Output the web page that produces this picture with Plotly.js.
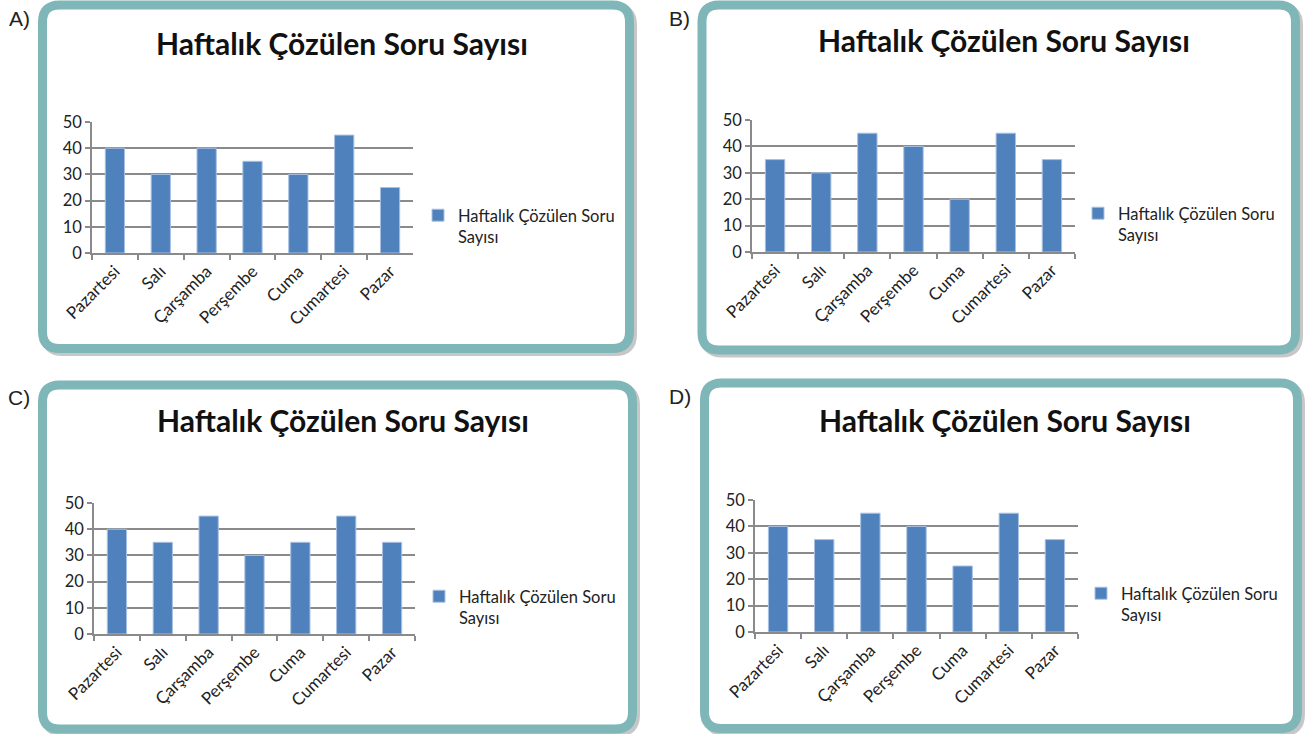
<!DOCTYPE html>
<html>
<head>
<meta charset="utf-8">
<script src="https://cdn.plot.ly/plotly-3.0.1.min.js"></script>
<style>
  html, body { margin: 0; padding: 0; background: #ffffff; }
  #chart { width: 1305px; height: 734px; }
</style>
</head>
<body>
<div id="chart"></div>
<script>
// ---------- data ----------
const days = ["Pazartesi", "Salı", "Çarşamba", "Perşembe", "Cuma", "Cumartesi", "Pazar"];
const seriesName = "Haftalık Çözülen Soru Sayısı";
const chartTitle = "Haftalık Çözülen Soru Sayısı";
const optionLabels = ["A)", "B)", "C)", "D)"];
const valuesA = [40, 30, 40, 35, 30, 45, 25];
const valuesB = [35, 30, 45, 40, 20, 45, 35];
const valuesC = [40, 35, 45, 30, 35, 45, 35];
const valuesD = [40, 35, 45, 40, 25, 45, 35];
const yTicks = [0, 10, 20, 30, 40, 50];

// ---------- layout helpers (pixel -> paper) ----------
const W = 1305, H = 734;
const px = x => x / W;
const py = y => 1 - y / H;

function roundRect(x0, y0, x1, y1, r) {
  const P = (x, y) => px(x).toFixed(5) + "," + py(y).toFixed(5);
  return "M" + P(x0 + r, y0) + " L" + P(x1 - r, y0) + " Q" + P(x1, y0) + " " + P(x1, y0 + r) +
         " L" + P(x1, y1 - r) + " Q" + P(x1, y1) + " " + P(x1 - r, y1) +
         " L" + P(x0 + r, y1) + " Q" + P(x0, y1) + " " + P(x0, y1 - r) +
         " L" + P(x0, y0 + r) + " Q" + P(x0, y0) + " " + P(x0 + r, y0) + " Z";
}

const panels = [
  { vals: valuesA, box: [42.5, 5, 629.5, 348.5], plot: [92, 413, 122, 253], title: [342, 43], leg: [458, 198], letter: [19, 18] },
  { vals: valuesB, box: [702, 5, 1295.5, 350],   plot: [752, 1075, 120, 252], title: [1004, 40], leg: [1118, 196], letter: [680, 18] },
  { vals: valuesC, box: [42.5, 385, 632.5, 729], plot: [94, 415, 503, 634], title: [343, 420], leg: [459, 579], letter: [19, 397] },
  { vals: valuesD, box: [704.5, 383, 1297.5, 728.5], plot: [755, 1078, 500, 632], title: [1005, 420], leg: [1121, 576], letter: [680, 396] }
];

const FONT = "Lato, 'Open Sans', sans-serif";
const GRID = "#8a8a8a";
const traces = [];
const layout = {
  width: W, height: H,
  margin: { l: 0, r: 0, t: 0, b: 0 },
  paper_bgcolor: "#ffffff",
  plot_bgcolor: "rgba(0,0,0,0)",
  bargap: 0.58,
  showlegend: true,
  font: { family: FONT, color: "#222222" },
  shapes: [],
  annotations: []
};

panels.forEach((p, i) => {
  const n = i === 0 ? "" : String(i + 1);
  const legKey = "legend" + n;
  traces.push({
    type: "bar",
    x: days,
    y: p.vals,
    name: seriesName.replace("Soru ", "Soru<br>"),
    xaxis: "x" + n,
    yaxis: "y" + n,
    legend: legKey,
    marker: { color: "#4f81bd", line: { color: "#a9c1e2", width: 1 } },
    hoverinfo: "x+y"
  });

  layout["xaxis" + n] = {
    domain: [px(p.plot[0]), px(p.plot[1])],
    anchor: "y" + n,
    type: "category",
    tickson: "boundaries",
    ticks: "outside",
    ticklen: 5,
    tickwidth: 1.5,
    tickcolor: GRID,
    showline: true,
    linecolor: GRID,
    linewidth: 1.5,
    showgrid: false,
    tickangle: -45,
    tickfont: { family: FONT, size: 17, color: "#222222" },
    fixedrange: true
  };
  layout["yaxis" + n] = {
    domain: [py(p.plot[3]), py(p.plot[2])],
    anchor: "x" + n,
    range: [0, 50],
    tickvals: yTicks,
    ticks: "outside",
    ticklen: 5,
    tickwidth: 1.5,
    tickcolor: GRID,
    showline: true,
    linecolor: GRID,
    linewidth: 1.5,
    showgrid: true,
    gridcolor: GRID,
    gridwidth: 1.5,
    zeroline: false,
    tickfont: { family: FONT, size: 16.5, color: "#222222" },
    fixedrange: true
  };
  layout[legKey] = {
    x: px(p.leg[0] - 40),
    xanchor: "left",
    y: py(p.leg[1]),
    yanchor: "top",
    valign: "top",
    bgcolor: "rgba(0,0,0,0)",
    borderwidth: 0,
    font: { family: FONT, size: 16.5, color: "#222222" }
  };

  const [x0, y0, x1, y1] = p.box;
  // soft shadow
  layout.shapes.push({
    type: "path", xref: "paper", yref: "paper", layer: "below",
    path: roundRect(x0 + 3, y0 + 3, x1 + 3, y1 + 3, 17),
    line: { color: "rgba(0,0,0,0.22)", width: 9 }
  });
  // teal rounded frame
  layout.shapes.push({
    type: "path", xref: "paper", yref: "paper", layer: "below",
    path: roundRect(x0, y0, x1, y1, 17),
    fillcolor: "#ffffff",
    line: { color: "#7fb7b9", width: 9 }
  });

  layout.annotations.push({
    xref: "paper", yref: "paper",
    x: px(p.title[0]), y: py(p.title[1]),
    xanchor: "center", yanchor: "middle",
    text: "<b>" + chartTitle + "</b>",
    showarrow: false,
    font: { family: FONT, size: 30, color: "#111111" }
  });
  layout.annotations.push({
    xref: "paper", yref: "paper",
    x: px(p.letter[0]), y: py(p.letter[1]),
    xanchor: "center", yanchor: "middle",
    text: optionLabels[i],
    showarrow: false,
    font: { family: "'Liberation Sans', Arial, sans-serif", size: 21, color: "#222222" }
  });
});

Plotly.newPlot("chart", traces, layout, { displayModeBar: false, staticPlot: false, responsive: false });
</script>
</body>
</html>
